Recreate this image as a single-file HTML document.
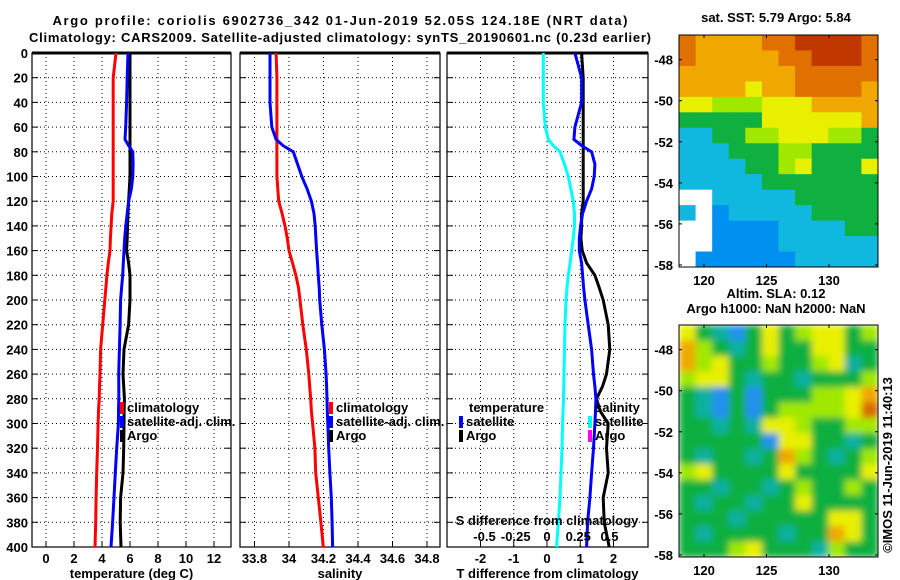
<!DOCTYPE html>
<html><head><meta charset="utf-8"><style>
html,body{margin:0;padding:0;background:#fff}
svg{display:block}
text{font-family:"Liberation Sans",Arial,sans-serif;font-weight:bold;font-size:13px;fill:#000}
</style></head><body>
<svg id="c" width="900" height="580">
<defs><filter id="bl" x="0" y="0" width="1" height="1"><feGaussianBlur stdDeviation="3.5"/></filter>
<clipPath id="cp2"><rect x="679" y="325" width="199" height="232"/></clipPath>
<clipPath id="cp1"><rect x="679" y="35" width="199" height="232"/></clipPath></defs>
<g id="g"></g>
</svg>
<script>
// ---------------- data ----------------
const depths=[0,20,40,60,70,75,80,90,100,110,120,130,140,150,160,170,180,190,200,220,240,260,270,280,290,300,320,340,360,380,400];
const tClim=[5.0,4.8,4.8,4.8,4.8,4.8,4.8,4.8,4.8,4.8,4.8,4.7,4.65,4.6,4.57,4.45,4.35,4.28,4.2,4.05,3.9,3.86,3.82,3.8,3.75,3.72,3.68,3.62,3.58,3.55,3.5];
const tSat=[5.86,5.8,5.76,5.69,5.64,5.9,6.2,6.22,6.2,6.1,5.9,5.8,5.7,5.62,5.57,5.52,5.48,5.4,5.33,5.29,5.24,5.19,5.2,5.2,5.18,5.17,5.05,4.95,4.86,4.76,4.64];
const tArgo=[6.0,6.0,6.0,6.0,6.0,6.0,6.0,6.0,6.0,5.95,5.9,5.86,5.82,5.8,5.76,5.9,6.0,6.0,6.0,5.9,5.57,5.5,5.55,5.6,5.58,5.57,5.55,5.5,5.33,5.3,5.36];
const sClim=[33.925,33.93,33.93,33.93,33.93,33.93,33.93,33.93,33.93,33.935,33.94,33.96,33.977,33.99,34.0,34.02,34.04,34.055,34.064,34.08,34.1,34.115,34.12,34.126,34.13,34.137,34.15,34.155,34.17,34.185,34.199];
const sSat=[33.89,33.89,33.89,33.9,33.925,33.965,34.025,34.05,34.074,34.105,34.13,34.145,34.152,34.156,34.16,34.165,34.17,34.175,34.178,34.19,34.205,34.215,34.218,34.22,34.222,34.225,34.23,34.237,34.245,34.25,34.253];
const dSsat=[-0.03,-0.03,-0.03,-0.014,0.01,0.05,0.104,0.14,0.17,0.19,0.21,0.22,0.22,0.21,0.197,0.185,0.17,0.16,0.152,0.144,0.14,0.136,0.134,0.132,0.128,0.125,0.12,0.112,0.104,0.09,0.077];
const dTsat=[0.84,1.04,1.04,0.84,0.81,1.04,1.34,1.44,1.42,1.34,1.19,1.07,1.01,0.97,0.97,1.04,1.07,1.1,1.14,1.24,1.34,1.4,1.44,1.47,1.46,1.44,1.4,1.34,1.29,1.22,1.19];
const dTargo=[1.04,1.09,1.09,1.09,1.09,1.09,1.09,1.09,1.09,1.09,1.09,1.04,1.04,1.02,1.06,1.19,1.44,1.57,1.69,1.84,1.89,1.79,1.67,1.49,1.6,1.84,1.79,1.84,1.69,1.72,1.87];
const depthTicks=[0,20,40,60,80,100,120,140,160,180,200,220,240,260,280,300,320,340,360,380,400];
const tTicks=[0,2,4,6,8,10,12];
const sTicks=[33.8,34,34.2,34.4,34.6,34.8];
const sTickLabels=["33.8","34","34.2","34.4","34.6","34.8"];
const dTTicks=[-2,-1,0,1,2];
const dSTicks=[-0.5,-0.25,0,0.25,0.5];
const dSTickLabels=["-0.5","-0.25","0","0.25","0.5"];
const latTicks=[-48,-50,-52,-54,-56,-58];
const lonTicks=[120,125,130];
const sstGrid=[
"877778899998","877777889998","777777788888","777767788887",
"665556667777","444446666667","334455666554","333444554444",
"333344564446","333334444444","ww3333344444","3w2333334444",
"ww2222333344","ww2222333333","w22222233333"];
const slaGrid=[
"643246456645","754346446644","756445445634","566434434445",
"432424445567","432424555568","443436654455","444442664434",
"434434754345","564444644446","443443454454","434434464444",
"444344444664","434444344764","444564443544"];
// ---------------- helpers ----------------
const NS="http://www.w3.org/2000/svg";
const G=document.getElementById('g');
function mk(tag,at,parent){const e=document.createElementNS(NS,tag);for(const k in at)e.setAttribute(k,at[k]);(parent||G).appendChild(e);return e;}
function txt(x,y,s,anchor,parent){const e=mk('text',{x:x,y:y,'text-anchor':anchor||'start'},parent);e.textContent=s;return e;}
const Y0=53,Y1=547;
function yD(d){return Y0+(d/400)*(Y1-Y0);}
const xT=v=>46+v*14;
const xS=v=>254.5+(v-33.8)*172.5;
const xDT=v=>547+v*33.25;
const xDS=v=>547+v*125;
const pal={'0':'#000080','1':'#0050e0','2':'#0090f0','3':'#10b8e0','4':'#10b040','5':'#a0e800','6':'#e8f000','7':'#f0a800','8':'#e07000','9':'#c03800','w':'#ffffff'};
const pal2={'2':'#2090f0','3':'#10b0a0','4':'#10b040','5':'#a0e800','6':'#e8f000','7':'#f0a800','8':'#d86800'};

// titles
let t=txt(340,25,"Argo profile: coriolis 6902736_342 01-Jun-2019 52.05S 124.18E (NRT data)","middle");
t.setAttribute('font-size','15');t.setAttribute('textLength','575');t.setAttribute('lengthAdjust','spacing');


t=txt(340,42,"Climatology: CARS2009. Satellite-adjusted climatology: synTS_20190601.nc (0.23d earlier)","middle");
t.setAttribute('font-size','15');t.setAttribute('textLength','622');t.setAttribute('lengthAdjust','spacing');



function panel(name,x0,x1,ticks,xf,labels,xlabel,showDepth){
  const p=mk('g',{});
  
  
  depthTicks.forEach(d=>{const y=yD(d);
    mk('line',{x1:x0,x2:x1,y1:y,y2:y,stroke:'#000','stroke-dasharray':'1,3','stroke-width':1},p);
    mk('line',{x1:x0,x2:x0+6,y1:y,y2:y,stroke:'#000'},p);
    mk('line',{x1:x1-6,x2:x1,y1:y,y2:y,stroke:'#000'},p);});
  ticks.forEach((v,i)=>{const x=xf(v);
    mk('line',{x1:x,x2:x,y1:Y0,y2:Y1,stroke:'#000','stroke-dasharray':'1,3'},p);
    mk('line',{x1:x,x2:x,y1:Y1-5,y2:Y1,stroke:'#000'},p);
    if(labels){const l=txt(x,563,labels[i],'middle',p);}});
  mk('rect',{x:x0,y:Y0,width:x1-x0,height:Y1-Y0,fill:'none',stroke:'#000','stroke-width':1.2},p);
  mk('line',{x1:x0,x2:x1,y1:Y0,y2:Y0,stroke:'#000','stroke-width':3},p);
  if(xlabel){const l=txt((x0+x1)/2,578,xlabel,'middle',p);}
  if(showDepth){depthTicks.forEach(d=>{const l=txt(28,yD(d)+5,String(d),'end',p);});}
  return p;
}
function line(p,vals,xf,color,name){
  const pts=vals.map((v,i)=>xf(v).toFixed(1)+','+yD(depths[i]).toFixed(1)).join(' ');
  const e=mk('polyline',{points:pts,fill:'none',stroke:color,'stroke-width':3},p);
  
  
}
function legend(p,x,y,color,label){
  mk('rect',{x:x,y:y-10,width:4,height:12,fill:color},p);
  const l=txt(x+7,y,label,'start',p);
  
  
}
// panel 1
const p1=panel('temperature-panel',32,231,tTicks,xT,tTicks.map(String),'temperature (deg C)',true);
line(p1,tClim,xT,'#ff0000','temperature-climatology-line');
line(p1,tArgo,xT,'#000000','temperature-argo-line');
line(p1,tSat,xT,'#0000ff','temperature-satellite-line');
legend(p1,120,412,'#ff0000','climatology');legend(p1,120,426,'#0000ff','satellite-adj. clim.');legend(p1,120,440,'#000000','Argo');
// panel 2
const p2=panel('salinity-panel',240,440,sTicks,xS,sTickLabels,'salinity',false);
line(p2,sClim,xS,'#ff0000','salinity-climatology-line');
line(p2,sSat,xS,'#0000ff','salinity-satellite-line');
legend(p2,329,412,'#ff0000','climatology');legend(p2,329,426,'#0000ff','satellite-adj. clim.');legend(p2,329,440,'#000000','Argo');
// panel 3
const p3=panel('difference-panel',447,648,dTTicks,xDT,dTTicks.map(String),'T difference from climatology',false);
line(p3,dSsat,xDS,'#00ffff','salinity-diff-satellite-line');
line(p3,dTargo,xDT,'#000000','temperature-diff-argo-line');
line(p3,dTsat,xDT,'#0000ff','temperature-diff-satellite-line');
txt(469,412,'temperature','start',p3);txt(595,412,'salinity','start',p3);
legend(p3,459,426,'#0000ff','satellite');legend(p3,459,440,'#000000','Argo');
legend(p3,588,426,'#00ffff','satellite');legend(p3,588,440,'#ff00ff','Argo');
txt(547,525,'S difference from climatology','middle',p3);
dSTicks.forEach((v,i)=>{const l=txt(xDS(v),541,dSTickLabels[i],'middle',p3);});

// maps
function map(name,gridRows,palette,top,bottom,title1,title2,blur,clip){
  const m=mk('g',{});
  
  
  const cg=mk('g',{'clip-path':'url(#'+clip+')'},m);
  const cells=mk('g',blur?{filter:'url(#bl)'}:{},cg);
  const x0=679,x1=878,rows=gridRows.length,cols=gridRows[0].length;
  const cw=(x1-x0)/cols,ch=(bottom-top)/rows;
  gridRows.forEach((r,ri)=>{[...r].forEach((c,ci)=>{
    const cell=mk('rect',{x:(x0+ci*cw).toFixed(2),y:(top+ri*ch).toFixed(2),width:(cw+0.6).toFixed(2),height:(ch+0.6).toFixed(2),fill:palette[c]},cells);
    
    });});
  mk('rect',{x:x0,y:top,width:x1-x0,height:bottom-top,fill:'none',stroke:'#000'},m);
  const latY=v=>top+(v-(-46.8))/(-58.1-(-46.8))*(bottom-top);
  const lonX=v=>704+(v-120)*12.5;
  latTicks.forEach(v=>{const y=latY(v);mk('line',{x1:x0,x2:x0+3,y1:y,y2:y,stroke:'#000'},m);mk('line',{x1:x1-3,x2:x1,y1:y,y2:y,stroke:'#000'},m);
    const l=txt(673,y+5,String(v),'end',m);});
  lonTicks.forEach(v=>{const x=lonX(v);mk('line',{x1:x,x2:x,y1:top,y2:top+3,stroke:'#000'},m);mk('line',{x1:x,x2:x,y1:bottom-3,y2:bottom,stroke:'#000'},m);
    const l=txt(x,bottom+18,String(v),'middle',m);});
  if(title1){const l=txt(776,top-(title2?27:13),title1,'middle',m);}
  if(title2){const l=txt(776,top-12,title2,'middle',m);}
}
map('sst-map',sstGrid,pal,35,267,'sat. SST: 5.79 Argo: 5.84',null,false,'cp1');
map('sla-map',slaGrid,pal2,325,557,'Altim. SLA: 0.12','Argo h1000: NaN h2000: NaN',true,'cp2');
const cp=txt(0,0,'©IMOS 11-Jun-2019 11:40:13','middle');
cp.setAttribute('transform','translate(892,465) rotate(-90)');
cp.setAttribute('font-weight','normal');


</script>
</body></html>
